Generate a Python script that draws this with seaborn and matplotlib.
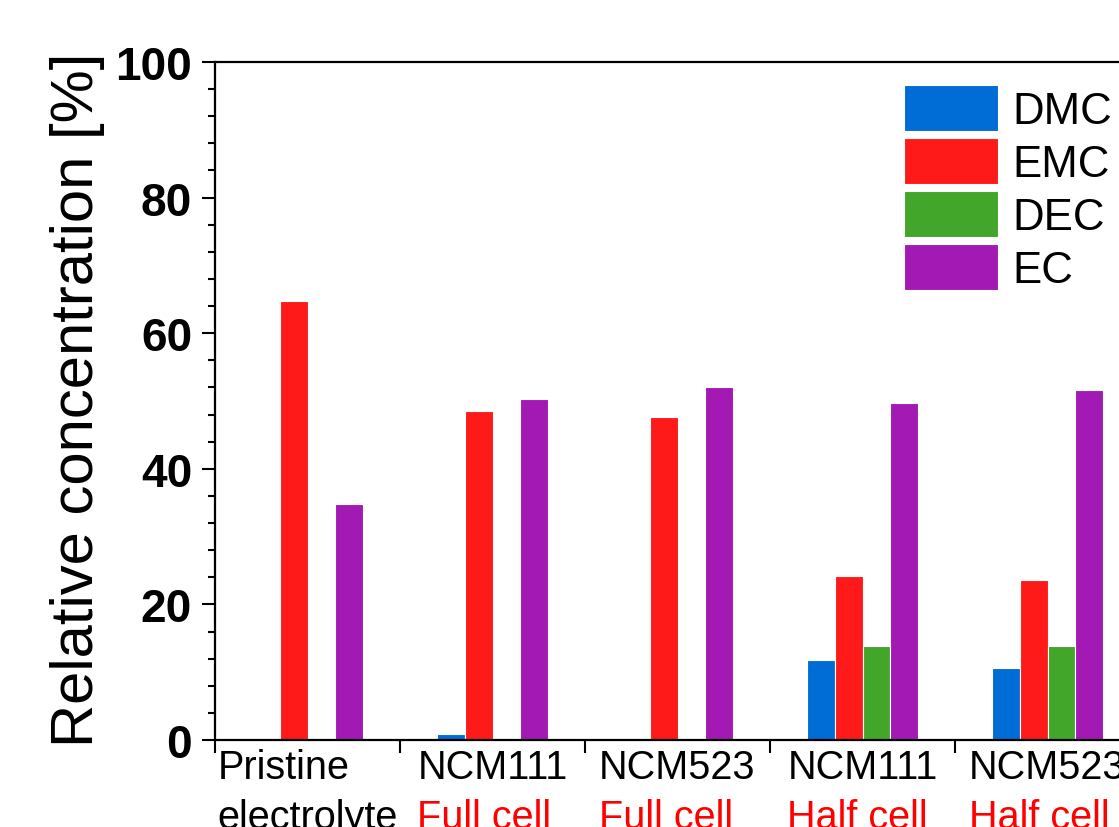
import numpy as np
import pandas as pd
import seaborn as sns
import matplotlib.pyplot as plt
from matplotlib.offsetbox import TextArea, VPacker, AnnotationBbox
from matplotlib.ticker import MultipleLocator

# sample names (first line black, second line red)
line1 = ["Pristine", "NCM111", "NCM523", "NCM111", "NCM523"]
line2 = ["electrolyte", "Full cell", "Full cell", "Half cell", "Half cell"]
samples = ["S1", "S2", "S3", "S4", "S5"]
solvents = ["DMC", "EMC", "DEC", "EC"]

dmc = [0.0, 0.9, 0.0, 11.8, 10.6]
emc = [64.7, 48.5, 47.6, 24.2, 23.6]
dec = [0.0, 0.0, 0.0, 13.9, 13.9]
ec = [34.8, 50.3, 52.1, 49.7, 51.6]

colors = ["#006CD6", "#FF1A1A", "#41A62A", "#A319B4"]

rows = []
for name, vals in zip(solvents, [dmc, emc, dec, ec]):
    for s, v in zip(samples, vals):
        rows.append({"sample": s, "solvent": name, "value": v})
df = pd.DataFrame(rows)

sns.set_style("ticks")
plt.rcParams['font.family'] = ['Liberation Sans', 'DejaVu Sans']
plt.rcParams['text.color'] = 'black'
plt.rcParams['xtick.color'] = 'black'
plt.rcParams['ytick.color'] = 'black'

fig = plt.figure(figsize=(11.19, 8.28), dpi=100)
ax = fig.add_axes([215 / 1119, 87 / 828, 925 / 1119, 678 / 828])

sns.barplot(data=df, x="sample", y="value", hue="solvent", order=samples,
            hue_order=solvents, palette=colors, saturation=1, width=0.6,
            edgecolor="white", linewidth=0.8, ax=ax)

ax.set_xlim(-0.5, 4.5)
ax.set_ylim(0, 100)
ax.set_xlabel("")
ax.set_ylabel("")

for sp in ax.spines.values():
    sp.set_linewidth(1.6)
    sp.set_color("black")

ax.yaxis.set_major_locator(MultipleLocator(20))
ax.yaxis.set_minor_locator(MultipleLocator(4))
ax.tick_params(axis="y", which="major", direction="out", length=9.5, width=1.5,
               pad=7, labelsize=33, color="black", labelcolor="black")
ax.tick_params(axis="y", which="minor", direction="out", length=5, width=1.5,
               color="black")
for t in ax.get_yticklabels():
    t.set_fontweight("bold")

ax.set_xticks(np.arange(-0.5, 5, 1.0))
ax.set_xticklabels([])
ax.tick_params(axis="x", which="major", direction="out", length=9, width=1.5,
               color="black")
ax.tick_params(axis="x", which="minor", length=0)

# two-colour category labels, block centred and lines left aligned
for i, (a, b) in enumerate(zip(line1, line2)):
    c2 = "black" if i == 0 else "red"
    t1 = TextArea(a, textprops=dict(fontsize=28.5, color="black"))
    t2 = TextArea(b, textprops=dict(fontsize=28.5, color=c2))
    box = VPacker(children=[t1, t2], align="left", pad=0, sep=8.5)
    ab = AnnotationBbox(box, (i, 0), xycoords=("data", "axes fraction"),
                        xybox=(0, -6), boxcoords="offset points",
                        box_alignment=(0.5, 1), frameon=False,
                        annotation_clip=False)
    ax.add_artist(ab)

fig.text(78 / 1119, 1 - 400 / 828, "Relative concentration [%]", rotation=90,
         ha="center", va="center", fontsize=43, color="black")

leg = ax.legend(loc="upper left", bbox_to_anchor=(904 / 1119, 1 - 86 / 828),
                bbox_transform=fig.transFigure, frameon=False, fontsize=31.5,
                handlelength=2.15, handleheight=1.25, labelspacing=0.14,
                handletextpad=0.32, borderpad=0, borderaxespad=0)
for t in leg.get_texts():
    t.set_color("black")

fig.savefig("out.png", dpi=100)
